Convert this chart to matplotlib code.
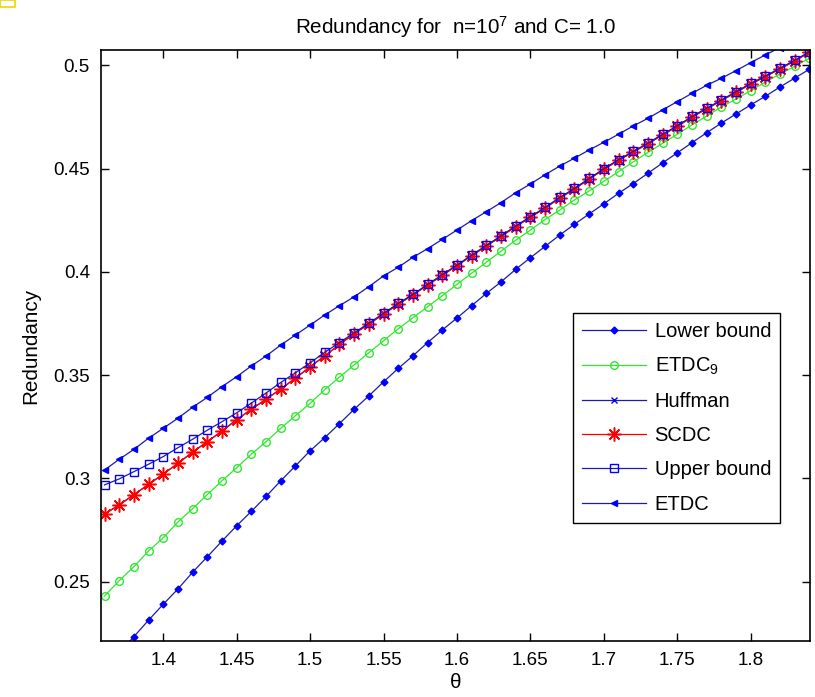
import numpy as np
import matplotlib
matplotlib.use("Agg")
import matplotlib.pyplot as plt
from matplotlib.patches import Rectangle

plt.rcParams['font.family'] = ['Liberation Sans', 'DejaVu Sans']
plt.rcParams['mathtext.default'] = 'regular'

# theta values (step 0.01)
theta = [1.36, 1.37, 1.38, 1.39, 1.40, 1.41, 1.42, 1.43, 1.44, 1.45,
         1.46, 1.47, 1.48, 1.49, 1.50, 1.51, 1.52, 1.53, 1.54, 1.55,
         1.56, 1.57, 1.58, 1.59, 1.60, 1.61, 1.62, 1.63, 1.64, 1.65,
         1.66, 1.67, 1.68, 1.69, 1.70, 1.71, 1.72, 1.73, 1.74, 1.75,
         1.76, 1.77, 1.78, 1.79, 1.80, 1.81, 1.82, 1.83, 1.84]

lower_bound = [0.2075, 0.2155, 0.2233, 0.2313, 0.2390, 0.2464, 0.2545, 0.2620, 0.2696, 0.2770,
               0.2840, 0.2912, 0.2988, 0.3060, 0.3133, 0.3197, 0.3265, 0.3334, 0.3399, 0.3467,
               0.3532, 0.3593, 0.3657, 0.3718, 0.3776, 0.3836, 0.3895, 0.3951, 0.4012, 0.4068,
               0.4123, 0.4178, 0.4230, 0.4280, 0.4329, 0.4380, 0.4427, 0.4477, 0.4527, 0.4576,
               0.4625, 0.4673, 0.4720, 0.4764, 0.4808, 0.4850, 0.4895, 0.4938, 0.4981]

etdc9 = [0.2430, 0.2504, 0.2572, 0.2648, 0.2712, 0.2788, 0.2853, 0.2921, 0.2988, 0.3051,
         0.3117, 0.3177, 0.3242, 0.3303, 0.3363, 0.3429, 0.3490, 0.3549, 0.3608, 0.3666,
         0.3724, 0.3777, 0.3831, 0.3884, 0.3939, 0.3993, 0.4046, 0.4100, 0.4153, 0.4202,
         0.4253, 0.4299, 0.4348, 0.4391, 0.4438, 0.4485, 0.4532, 0.4578, 0.4622, 0.4666,
         0.4711, 0.4754, 0.4798, 0.4836, 0.4877, 0.4919, 0.4958, 0.4995, 0.5034]

huffman = [0.2827, 0.2871, 0.2921, 0.2970, 0.3021, 0.3072, 0.3127, 0.3177, 0.3229, 0.3284,
           0.3334, 0.3383, 0.3432, 0.3485, 0.3540, 0.3593, 0.3648, 0.3700, 0.3747, 0.3795,
           0.3843, 0.3888, 0.3936, 0.3983, 0.4030, 0.4078, 0.4125, 0.4171, 0.4219, 0.4264,
           0.4309, 0.4357, 0.4401, 0.4449, 0.4496, 0.4540, 0.4580, 0.4620, 0.4663, 0.4704,
           0.4749, 0.4789, 0.4829, 0.4869, 0.4909, 0.4945, 0.4983, 0.5021, 0.5063]

scdc = [0.2827, 0.2871, 0.2921, 0.2970, 0.3021, 0.3072, 0.3127, 0.3177, 0.3229, 0.3284,
        0.3334, 0.3383, 0.3432, 0.3485, 0.3540, 0.3593, 0.3648, 0.3700, 0.3747, 0.3795,
        0.3843, 0.3888, 0.3936, 0.3983, 0.4030, 0.4078, 0.4125, 0.4171, 0.4219, 0.4264,
        0.4309, 0.4357, 0.4401, 0.4449, 0.4496, 0.4540, 0.4580, 0.4620, 0.4663, 0.4704,
        0.4749, 0.4789, 0.4829, 0.4869, 0.4909, 0.4945, 0.4983, 0.5021, 0.5063]

upper_bound = [0.2968, 0.2997, 0.3032, 0.3068, 0.3105, 0.3148, 0.3189, 0.3233, 0.3274, 0.3317,
               0.3364, 0.3413, 0.3464, 0.3511, 0.3559, 0.3610, 0.3657, 0.3705, 0.3751, 0.3799,
               0.3847, 0.3891, 0.3939, 0.3986, 0.4033, 0.4081, 0.4128, 0.4174, 0.4222, 0.4267,
               0.4312, 0.4360, 0.4404, 0.4452, 0.4499, 0.4543, 0.4583, 0.4623, 0.4666, 0.4707,
               0.4752, 0.4792, 0.4832, 0.4872, 0.4912, 0.4948, 0.4986, 0.5024, 0.5066]

etdc = [0.3040, 0.3092, 0.3140, 0.3194, 0.3242, 0.3291, 0.3344, 0.3392, 0.3444, 0.3492,
        0.3544, 0.3592, 0.3645, 0.3694, 0.3742, 0.3791, 0.3836, 0.3879, 0.3928, 0.3980,
        0.4022, 0.4070, 0.4112, 0.4157, 0.4202, 0.4248, 0.4291, 0.4335, 0.4383, 0.4425,
        0.4470, 0.4512, 0.4550, 0.4590, 0.4627, 0.4666, 0.4706, 0.4743, 0.4784, 0.4824,
        0.4864, 0.4903, 0.4937, 0.4974, 0.5013, 0.5050, 0.5086, 0.5122, 0.5158]

x_ticks = [1.4, 1.45, 1.5, 1.55, 1.6, 1.65, 1.7, 1.75, 1.8]
y_ticks = [0.25, 0.3, 0.35, 0.4, 0.45, 0.5]

fig = plt.figure(figsize=(8.15, 6.97), dpi=100)
ax = fig.add_axes([101 / 815, 56 / 697, 709 / 815, 591 / 697])

blue = '#0000ff'
line_blue = '#1c1ca8'
asterisk = (8, 2, 0)
ax.plot(theta, lower_bound, color=line_blue, lw=0.9, marker='D', ms=3.5,
        mfc=blue, mec=blue, label='Lower bound')
ax.plot(theta, etdc9, color='#2ee82e', lw=0.9, marker='o', ms=5.5,
        mfc='none', mec='#2ee82e', label='ETDC$_9$')
ax.plot(theta, huffman, color=line_blue, lw=0.9, marker='x', ms=5,
        mec=blue, label='Huffman')
ax.plot(theta, scdc, color='#ff0000', lw=0.9, marker=asterisk, ms=10,
        mew=1.1, mec='#ff0000', label='SCDC')
ax.plot(theta, upper_bound, color=line_blue, lw=0.9, marker='s', ms=5.5,
        mfc='none', mec=blue, label='Upper bound')
ax.plot(theta, etdc, color=line_blue, lw=0.9, marker='<', ms=4.5,
        mfc=blue, mec=blue, label='ETDC')

ax.set_xlim(1.3576, 1.8404)
ax.set_ylim(0.2212, 0.5074)
ax.set_xticks(x_ticks)
ax.set_xticklabels([f'{t:g}' for t in x_ticks])
ax.set_yticks(y_ticks)
ax.set_yticklabels([f'{t:g}' for t in y_ticks])
ax.tick_params(direction='in', top=True, right=True, length=6, width=1,
               labelsize=13.5, pad=8)
for sp in ax.spines.values():
    sp.set_linewidth(1.2)

ax.set_title(r'Redundancy for  n=10$^7$ and C= 1.0', fontsize=14.9, pad=12)
ax.set_xlabel('θ', fontsize=14.9, labelpad=3)
ax.set_ylabel('Redundancy', fontsize=14.9, labelpad=9)

leg = ax.legend(loc='upper left', bbox_to_anchor=(0.6657, 0.5555),
                borderaxespad=0, fontsize=14.5, handlelength=3.2,
                handletextpad=0.4, labelspacing=0.75, borderpad=0.45,
                fancybox=False, framealpha=1)
leg.get_frame().set_edgecolor('black')
leg.get_frame().set_linewidth(1.0)

# small yellow box in the top-left corner of the original image
fig.patches.append(Rectangle((0, 690 / 697), 15 / 815, 7 / 697,
                             transform=fig.transFigure, fill=False,
                             edgecolor='#e8d800', lw=1.2))

fig.savefig('out.png', dpi=100)
